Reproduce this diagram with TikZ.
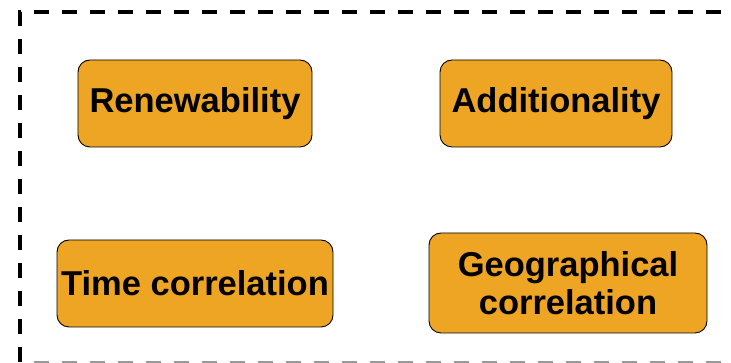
\documentclass[tikz,border=0pt]{standalone}
\usepackage{fontspec}
\setmainfont{Liberation Sans}
\usepackage{tikz}
\definecolor{boxorange}{HTML}{EFA524}

\begin{document}
\begin{tikzpicture}[x=1pt,y=1pt,
	crit/.style={draw=black, line width=0.9pt, fill=boxorange, rounded corners=12pt,
		inner sep=0pt, align=center,
		font=\fontsize{34.5}{38}\selectfont\bfseries}]
	\useasboundingbox (0,0) rectangle (731,363);
	\clip (0,0) rectangle (731,363);

	\draw[line width=3.4pt, dash pattern=on 15pt off 13pt] (20,1) -- (20,351) -- (760,351);
	\draw[line width=3.4pt, dash pattern=on 15pt off 13pt, black!40] (34,0.5) -- (760,0.5);

            \node[crit, minimum width=234, minimum height=87] (renew) at (195,259.5) {Renewability};
            \node[crit, minimum width=232, minimum height=87] (addit) at (556,259.5) {Additionality};
            \node[crit, minimum width=276, minimum height=87] (timecor) at (195,79.5) {Time correlation};
            \node[crit, minimum width=278, minimum height=100] (geocor) at (568,80) {Geographical\\correlation};
        \end{tikzpicture}
\end{document}
